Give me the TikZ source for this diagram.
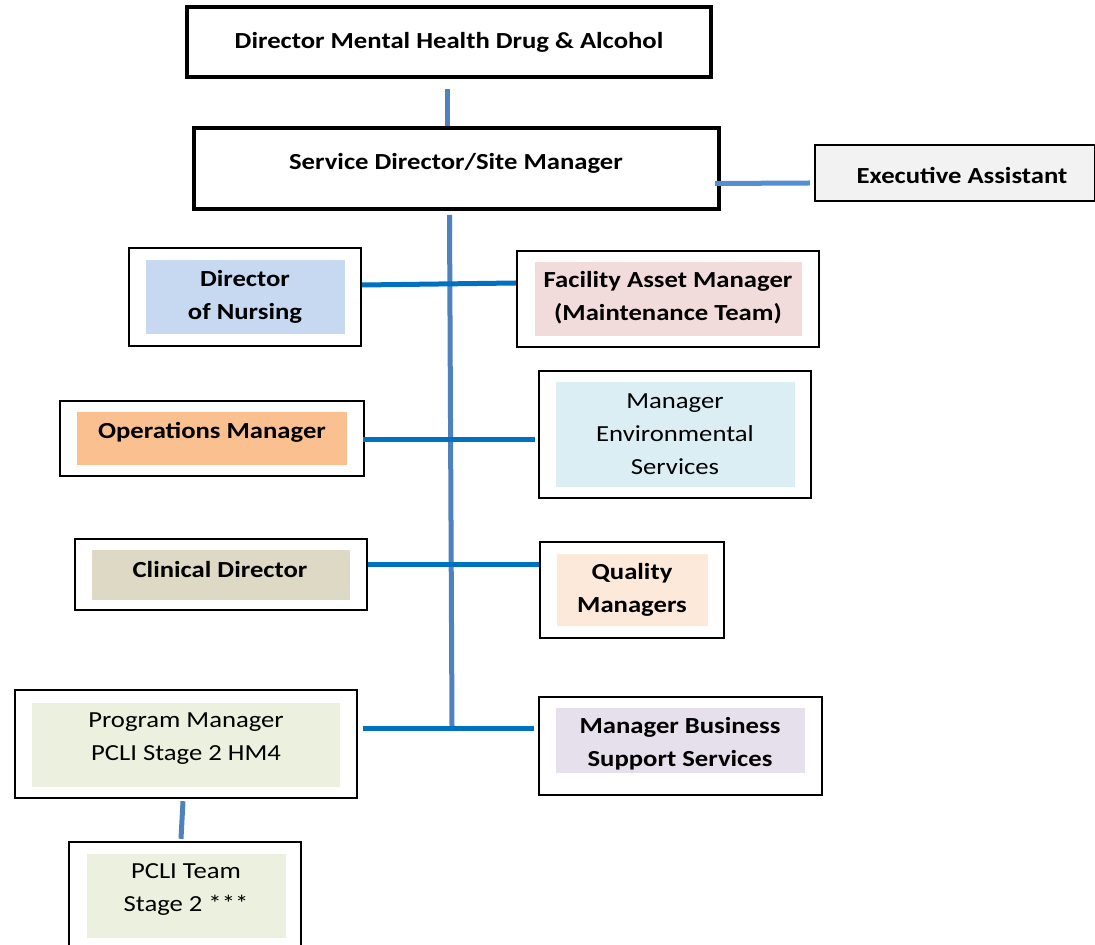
\documentclass[tikz,border=0pt]{standalone}
\usepackage{fontspec}
\setmainfont{Carlito}[FakeStretch=1.16]
\usetikzlibrary{fit}

\definecolor{trunkblue}{HTML}{4F81BD}
\definecolor{armblue}{HTML}{0070C0}
\definecolor{assistblue}{HTML}{558ED5}
\definecolor{assistgray}{HTML}{F2F2F2}
\definecolor{nursefill}{HTML}{C6D9F1}
\definecolor{facilityfill}{HTML}{F2DCDB}
\definecolor{opsfill}{HTML}{FAC090}
\definecolor{envfill}{HTML}{DBEEF4}
\definecolor{clinicfill}{HTML}{DDD9C4}
\definecolor{qualityfill}{HTML}{FDE9D9}
\definecolor{pcligreen}{HTML}{EBF1DE}
\definecolor{businessfill}{HTML}{E5E0EC}

\begin{document}
\begin{tikzpicture}[
            x=0.5pt, y=-0.5pt,
            every node/.style={font=\fontsize{11.5}{16.5}\selectfont, align=center},
            headbox/.style={draw=black, line width=2pt, fill=white, inner sep=0pt},
            unitbox/.style={draw=black, line width=1.2pt, fill=white, inner sep=0pt},
            shade/.style={fill=#1, draw=none, inner sep=0pt},
            plain/.style={yshift=-1pt},
            strong/.style={plain, font=\fontsize{11.5}{16.5}\selectfont\bfseries},
            trunk/.style={draw=trunkblue, line width=2.5pt},
            arm/.style={draw=armblue, line width=2.5pt}
        ]
            \useasboundingbox (0,0) rectangle (1095,945);
            \clip (0,0) rectangle (1095,945);

            % top of the chart
            \node[headbox, fit={(187,7) (711,77)}] (mhda) {};
            \node[strong] at (449,40) {Director Mental Health Drug \& Alcohol};
            \node[headbox, fit={(194,128) (719,209)}] (site) {};
            \node[strong] at (456,161) {Service Director/Site Manager};
            \node[unitbox, fill=assistgray, fit={(815,145) (1095,201)}] (assist) {};
            \node[strong] at (962,174) {Executive Assistant};

            % left column
            \node[unitbox, fit={(129,248) (361,346)}] (nursing) {};
            \node[shade=nursefill, fit={(146,260) (345,334)}] {};
            \node[strong] at (245,295) {Director\\of Nursing};

            \node[unitbox, fit={(60,401) (364,476)}] (ops) {};
            \node[shade=opsfill, fit={(77,412) (347,465)}] {};
            \node[strong] at (212,430) {Operations Manager};

            \node[unitbox, fit={(75,539) (367,610)}] (clinical) {};
            \node[shade=clinicfill, fit={(92,550) (350,600)}] {};
            \node[strong] at (220,568) {Clinical Director};

            \node[unitbox, fit={(15,690) (357,798)}] (program) {};
            \node[shade=pcligreen, fit={(32,703) (340,787)}] {};
            \node[plain] at (186,737) {Program Manager\\PCLI Stage 2 HM4};

            \node[unitbox, fit={(69,842) (301,960)}] (team) {};
            \node[shade=pcligreen, fit={(87,854) (286,938)}] {};
            \node[plain] at (186,888) {PCLI Team\\Stage 2 ***};

            % right column
            \node[unitbox, fit={(517,251) (819,347)}] (facility) {};
            \node[shade=facilityfill, fit={(535,262) (802,336)}] {};
            \node[strong] at (668,296) {Facility Asset Manager\\(Maintenance Team)};

            \node[unitbox, fit={(539,371) (811,498)}] (env) {};
            \node[shade=envfill, fit={(556,382) (795,487)}] {};
            \node[plain] at (675,432) {Manager\\Environmental\\Services};

            \node[unitbox, fit={(540,542) (724,638)}] (quality) {};
            \node[shade=qualityfill, fit={(557,554) (708,626)}] {};
            \node[strong] at (632,588) {Quality\\Managers};

            \node[unitbox, fit={(539,697) (822,795)}] (business) {};
            \node[shade=businessfill, fit={(556,708) (805,773)}] {};
            \node[strong] at (680,742) {Manager Business\\Support Services};

            % connectors
            \coordinate (trunkend) at (452,727);
            \draw[trunk] ([xshift=-1pt, yshift=-5pt]mhda.south) -- ([xshift=-4.75pt]site.north);
            \draw[draw=assistblue, line width=2.5pt] ([xshift=-3pt, yshift=-7.5pt]site.east) -- ([xshift=-2pt, yshift=-5pt]assist.west);
            \draw[trunk] ([xshift=-3.5pt, yshift=-2pt]site.south) -- (trunkend);

            \draw[arm] ([yshift=6pt]nursing.east) -- ([yshift=8pt]facility.west);
            \draw[arm] ([xshift=-1pt, yshift=-0.75pt]ops.east) -- ([xshift=-1.5pt, yshift=-2.75pt]env.west);
            \draw[arm] ([yshift=5.25pt]clinical.east) -- ([yshift=13pt]quality.west);
            \draw[arm] ([xshift=2.5pt, yshift=8pt]program.east) -- ([xshift=-2pt, yshift=9pt]business.west);
            \draw[trunk] ([xshift=-1.5pt, yshift=-1pt]program.south) -- ([xshift=-2pt, yshift=1pt]team.north);
        \end{tikzpicture}
\end{document}
